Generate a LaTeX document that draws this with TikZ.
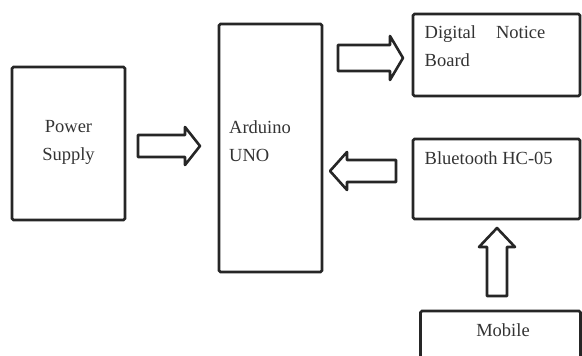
\documentclass[tikz,border=0pt]{standalone}
\usepackage{fontspec}
\setmainfont{Liberation Serif}
\tikzset{
  box/.style={draw=black!85, line width=2.6pt, rounded corners=1.5pt, inner sep=0pt},
  lbl/.style={inner sep=0pt, font=\fontsize{18.5}{28}\selectfont, text=black!80, align=left},
  barrowstyle/.style={draw=black!85, line width=2.6pt, line join=round, fill=white}
}
\newcommand{\blockarrow}[6]{%
  \begin{scope}[shift={(#1)}, rotate=#2]
    \draw[barrowstyle] (0,-#5) -- ({#3-#4},-#5) -- ({#3-#4},-#6) -- (#3,0) -- ({#3-#4},#6) -- ({#3-#4},#5) -- (0,#5) -- cycle;
  \end{scope}}
\begin{document}
\begin{tikzpicture}[x=1pt,y=1pt]
\useasboundingbox (0,0) rectangle (582,356);
\clip (0,0) rectangle (582,356);
% boxes (image y down -> 356-y)
\node[box, minimum width=113pt, minimum height=153pt] (power) at (68.5,212.5) {};
\node[box, minimum width=103pt, minimum height=248pt] (arduino) at (270.5,208) {};
\node[box, minimum width=167pt, minimum height=82pt] (dnb) at (496.5,301) {};
\node[box, minimum width=167pt, minimum height=80pt] (bt) at (496.5,177) {};
\node[box, minimum width=160pt, minimum height=49pt] (mobile) at (500.5,20.5) {};
% labels
\node[lbl, align=center] (powertxt) at (power.center) [yshift=1pt] {Power\\Supply};
\node[lbl, anchor=west] (ardtxt) at (229,215) {Arduino\\UNO};
\node[lbl, anchor=north west] (dnbtxt) at (424.5,331) {Digital\hspace{20pt}Notice\\Board};
\node[lbl, anchor=north west] (bttxt) at (424.5,205) {Bluetooth HC-05};
\node[lbl, anchor=center] (mobtxt) at (503,26) {Mobile};
% block arrows
\coordinate (a1) at (138,210);
\coordinate (a2) at (338,298);
\coordinate (a3) at (396,185);
\coordinate (a4) at (497,60);
\blockarrow{a1}{0}{62}{15}{11}{19}
\blockarrow{a2}{0}{65}{13}{13}{22}
\blockarrow{a3}{180}{66}{17}{11}{19}
\blockarrow{a4}{90}{68}{19}{10}{18}
\end{tikzpicture}
\end{document}
